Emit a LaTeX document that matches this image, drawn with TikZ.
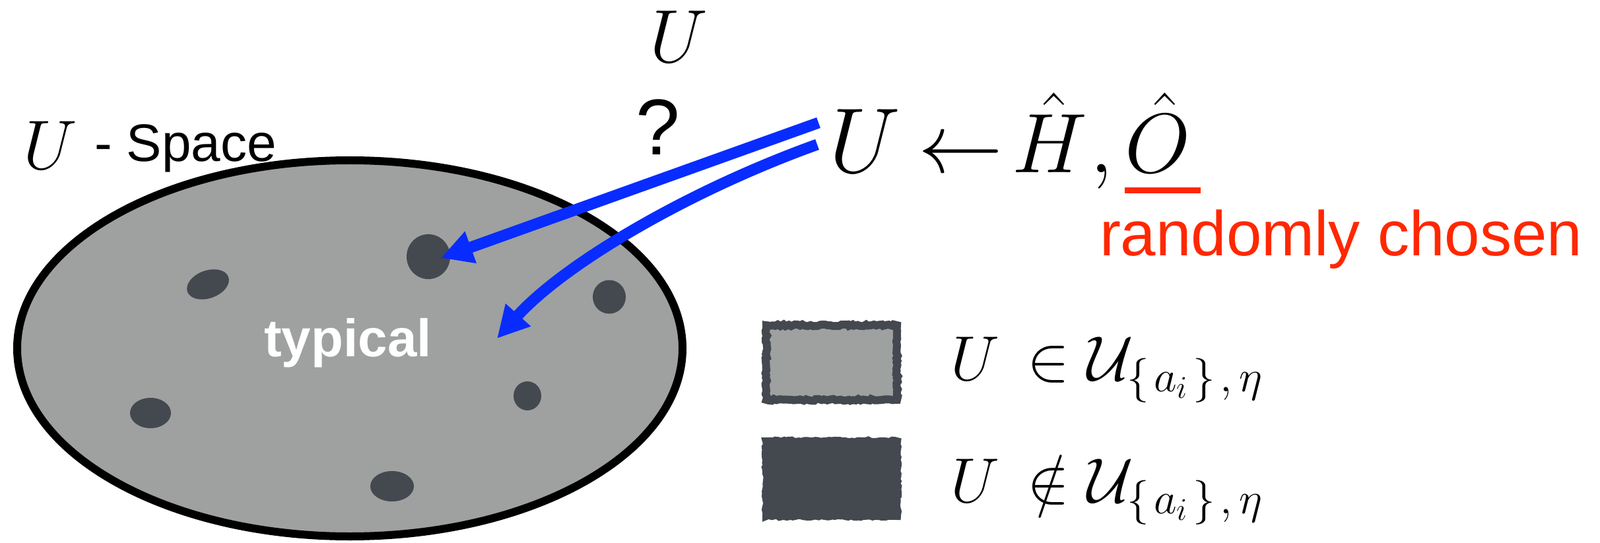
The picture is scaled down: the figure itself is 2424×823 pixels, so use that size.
\RequirePackage{fix-cm}
\documentclass[tikz,border=0pt]{standalone}
\usepackage{fontspec}
\newfontfamily\arialf{Liberation Sans}
\usetikzlibrary{arrows.meta,decorations.pathmorphing,shapes.geometric}
\definecolor{fillgray}{RGB}{158,161,160}
\definecolor{dotgray}{RGB}{68,72,79}
\definecolor{arrowblue}{RGB}{8,44,255}
\definecolor{redtxt}{RGB}{255,40,0}
\newcommand\setfsz[1]{\fontsize{#1pt}{#1pt}\selectfont}
\begin{document}
\begin{tikzpicture}[x=0.5pt,y=-0.5pt,
  txt/.style={inner sep=0pt, outer sep=0pt},
  dotblob/.style={ellipse, fill=dotgray, draw=none, inner sep=0pt},
  bluearrow/.style={draw=arrowblue, line width=8.5pt, -{Triangle[length=24pt,width=24pt]}},
  legbox/.style={draw=dotgray, line width=6pt, minimum width=99pt, minimum height=56.5pt, inner sep=0pt,
    decorate, decoration={random steps, segment length=2pt, amplitude=0.7pt}}
]
\useasboundingbox (0,0) rectangle (2424,823);

% big set
\node[ellipse, draw=black, fill=fillgray, line width=6pt, minimum width=504pt, minimum height=285pt, inner sep=0pt] (space) at (530,528) {};

% dark blobs
\node[dotblob, minimum width=33pt, minimum height=34pt] (d1) at (649,389) {};
\node[dotblob, minimum width=33pt, minimum height=21pt, rotate=20] (d2) at (315,431) {};
\node[dotblob, minimum width=25pt, minimum height=25.5pt] (d3) at (923,450) {};
\node[dotblob, minimum width=21pt, minimum height=22pt] (d4) at (799,600) {};
\node[dotblob, minimum width=31pt, minimum height=23pt] (d5) at (228,626) {};
\node[dotblob, minimum width=33pt, minimum height=23pt] (d6) at (594,737) {};

% labels
\node[txt, anchor=base, font={\setfsz{53}}] (Ulab) at (76,257) {$U$};
\node[txt, anchor=base west, font={\arialf\setfsz{40}}] (spacelab) at (143,245) {- Space};
\node[txt, anchor=base, font={\arialf\bfseries\setfsz{40}}, text=white] (typ) at (527,540) {typical};
\node[txt, anchor=base, font={\setfsz{57}}] (Utop) at (1028,95) {$U$};
\node[txt, anchor=base, font={\arialf\setfsz{60}}] (q) at (997,235) {?};

% formula
\node[txt, anchor=base, font={\setfsz{70}}] (Ubig) at (1310,262) {$U$};
\node[txt, anchor=base, font={\setfsz{64}}] (larr) at (1455,262) {$\leftarrow$};
\node[txt, anchor=base, font={\setfsz{64}}] (Hhat) at (1590,262) {$\hat H$};
\node[txt, anchor=base, font={\setfsz{64}}] (comma) at (1669,262) {$,$};
\node[txt, anchor=base, font={\setfsz{64}}] (Ohat) at (1754,262) {$\hat O$};
\node[fill=redtxt, minimum width=57.5pt, minimum height=4.5pt, inner sep=0pt] (bar) at (1761.5,288.5) {};
\node[txt, anchor=base west, font={\arialf\setfsz{48}}, text=redtxt] (rc) at (1666,387) {randomly chosen};

% arrows
\coordinate (s1) at (1240,186);
\coordinate (t1) at (668,391);
\coordinate (s2) at (1238,219);
\coordinate (t2) at (753,513);
\draw[bluearrow] (s1) -- (t1);
\draw[bluearrow] (s2) .. controls (1038,291) and (853,402) .. (t2);

% legend
\node[legbox, fill=fillgray] (box1) at (1260,549.5) {};
\node[legbox, fill=dotgray] (box2) at (1260,725.5) {};
\node[txt, anchor=base west, font={\setfsz{48}}] (leg1) at (1440,576)
  {$U \mkern3mu\in \mathcal{U}_{\{\mkern2mu a_i\mkern2mu\}\mkern2mu,\mkern3mu\eta}$};
\node[txt, anchor=base west, font={\setfsz{48}}] (leg2) at (1440,761)
  {$U \mkern3mu\notin \mathcal{U}_{\{\mkern2mu a_i\mkern2mu\}\mkern2mu,\mkern3mu\eta}$};
\end{tikzpicture}
\end{document}
